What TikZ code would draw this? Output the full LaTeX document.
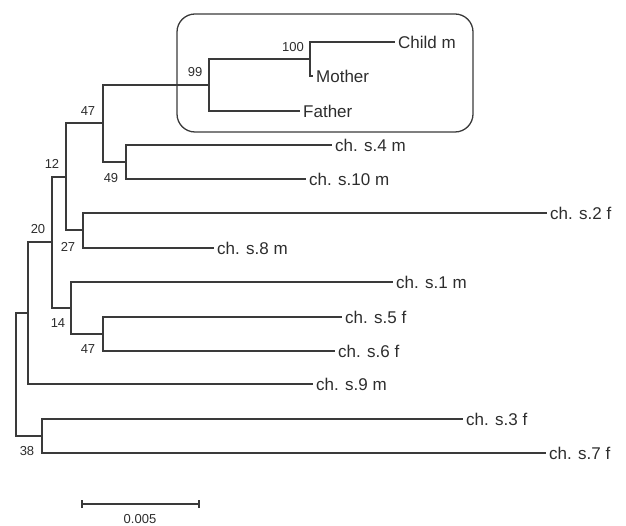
\documentclass[tikz,border=0pt]{standalone}
\usepackage{fontspec}
\setmainfont{Liberation Sans}
\definecolor{linec}{RGB}{58,58,58}
\definecolor{textc}{RGB}{45,45,45}
\begin{document}
\begin{tikzpicture}[x=1pt,y=-1pt,
  br/.style={draw=linec, line width=1.2pt},
  tip/.style={anchor=west, inner sep=3pt, text=textc, font=\fontsize{17}{18}\selectfont},
  bs/.style={inner sep=0pt, text=textc, font=\fontsize{13}{14}\selectfont},
]
\useasboundingbox (0,0) rectangle (626,526);
% internal nodes
\coordinate (n100) at (310,59);
\coordinate (n99) at (209,85);
\coordinate (n49) at (126,162);
\coordinate (n47a) at (103,123);
\coordinate (n27) at (83,230);
\coordinate (n12) at (66,177);
\coordinate (n47b) at (103,334);
\coordinate (n14) at (71,308);
\coordinate (n20) at (52,242);
\coordinate (nA) at (28,313);
\coordinate (n38) at (42,436);
\coordinate (root) at (16,374.5);
% tips
\node[tip] (tChild) at (395,42) {Child m};
\node[tip] (tMother) at (313,76) {Mother};
\node[tip] (tFather) at (300,111) {Father};
\node[tip] (t4) at (332,145) {ch. s.4 m};
\node[tip] (t10) at (306,179) {ch. s.10 m};
\node[tip] (t2) at (547,213) {ch. s.2 f};
\node[tip] (t8) at (214,248) {ch. s.8 m};
\node[tip] (t1) at (393,282) {ch. s.1 m};
\node[tip] (t5) at (342,317) {ch. s.5 f};
\node[tip] (t6) at (335,351) {ch. s.6 f};
\node[tip] (t9) at (313,384) {ch. s.9 m};
\node[tip] (t3) at (463,419) {ch. s.3 f};
\node[tip] (t7) at (546,453) {ch. s.7 f};
% branches
\draw[br] (n100) |- (tChild.west) (n100) |- (tMother.west);
\draw[br] (n99) |- (n100) (n99) |- (tFather.west);
\draw[br] (n49) |- (t4.west) (n49) |- (t10.west);
\draw[br] (n47a) |- (n99) (n47a) |- (n49);
\draw[br] (n27) |- (t2.west) (n27) |- (t8.west);
\draw[br] (n12) |- (n47a) (n12) |- (n27);
\draw[br] (n47b) |- (t5.west) (n47b) |- (t6.west);
\draw[br] (n14) |- (t1.west) (n14) |- (n47b);
\draw[br] (n20) |- (n12) (n20) |- (n14);
\draw[br] (nA) |- (n20) (nA) |- (t9.west);
\draw[br] (n38) |- (t3.west) (n38) |- (t7.west);
\draw[br] (root) |- (nA) (root) |- (n38);
% bootstrap values
\node[bs] (b100) at (293,47) {100};
\node[bs] (b99) at (195,72) {99};
\node[bs] (b47a) at (88,111) {47};
\node[bs] (b12) at (52,164) {12};
\node[bs] (b49) at (111,178) {49};
\node[bs] (b20) at (38,229) {20};
\node[bs] (b27) at (68,247) {27};
\node[bs] (b14) at (58,323) {14};
\node[bs] (b47b) at (88,349) {47};
\node[bs] (b38) at (27,451) {38};
% family box
\draw[draw=linec, line width=1.3pt, rounded corners=18pt] (177,14) rectangle (473,132);
% scale bar
\coordinate (sbL) at (82,504);
\coordinate (sbR) at (199,504);
\draw[br] (sbL) -- (sbR);
\draw[br] ([yshift=-4pt]sbL) -- ([yshift=4pt]sbL);
\draw[br] ([yshift=-4pt]sbR) -- ([yshift=4pt]sbR);
\node[bs] (sbT) at (140,519) {0.005};
\end{tikzpicture}
\end{document}
